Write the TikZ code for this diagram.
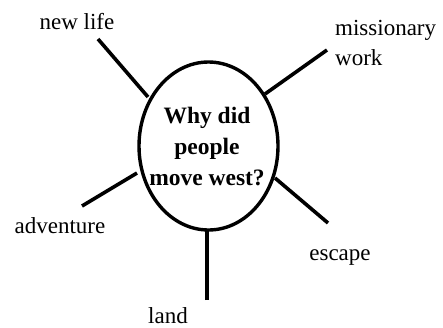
\documentclass[tikz,border=0pt]{standalone}
\usepackage{fontspec}
\setmainfont{Liberation Serif}
\usetikzlibrary{shapes.geometric}
\begin{document}
\begin{tikzpicture}[x=1pt,y=-1pt,
  spoke/.style={line width=3.6pt},
  lbl/.style={font=\fontsize{23}{30}\selectfont, inner sep=0pt, anchor=base},
  hub/.style={draw, ellipse, line width=3.4pt, minimum width=139pt, minimum height=168pt, inner sep=0pt}]
\useasboundingbox (0,0) rectangle (443,327);
\node[hub] (c) at (208.5,146) {};
\node[font=\fontsize{23.5}{31}\selectfont\bfseries, align=center, anchor=base, inner sep=0pt] (q) at (207,185) {Why did\\people\\move west?};
% labels
\node[lbl] (nl) at (77,29) {new life};
\node[lbl, anchor=base west, align=left] (mw) at (335,65) {missionary\\work};
\node[lbl] (adv) at (60,233) {adventure};
\node[lbl] (esc) at (340,260) {escape};
\node[lbl] (land) at (168,323) {land};
% spoke ends
\coordinate (nlA) at (98,39);  \coordinate (nlB) at (148,97);
\coordinate (mwA) at (327,50); \coordinate (mwB) at (265,94);
\coordinate (adA) at (82,206); \coordinate (adB) at (137,173);
\coordinate (esA) at (328,223); \coordinate (esB) at (275,178);
\coordinate (laA) at (207,300); \coordinate (laB) at (207,231);
\draw[spoke] (nlA) -- (nlB);
\draw[spoke] (mwA) -- (mwB);
\draw[spoke] (adA) -- (adB);
\draw[spoke] (esA) -- (esB);
\draw[spoke] (laA) -- (laB);
\end{tikzpicture}
\end{document}
